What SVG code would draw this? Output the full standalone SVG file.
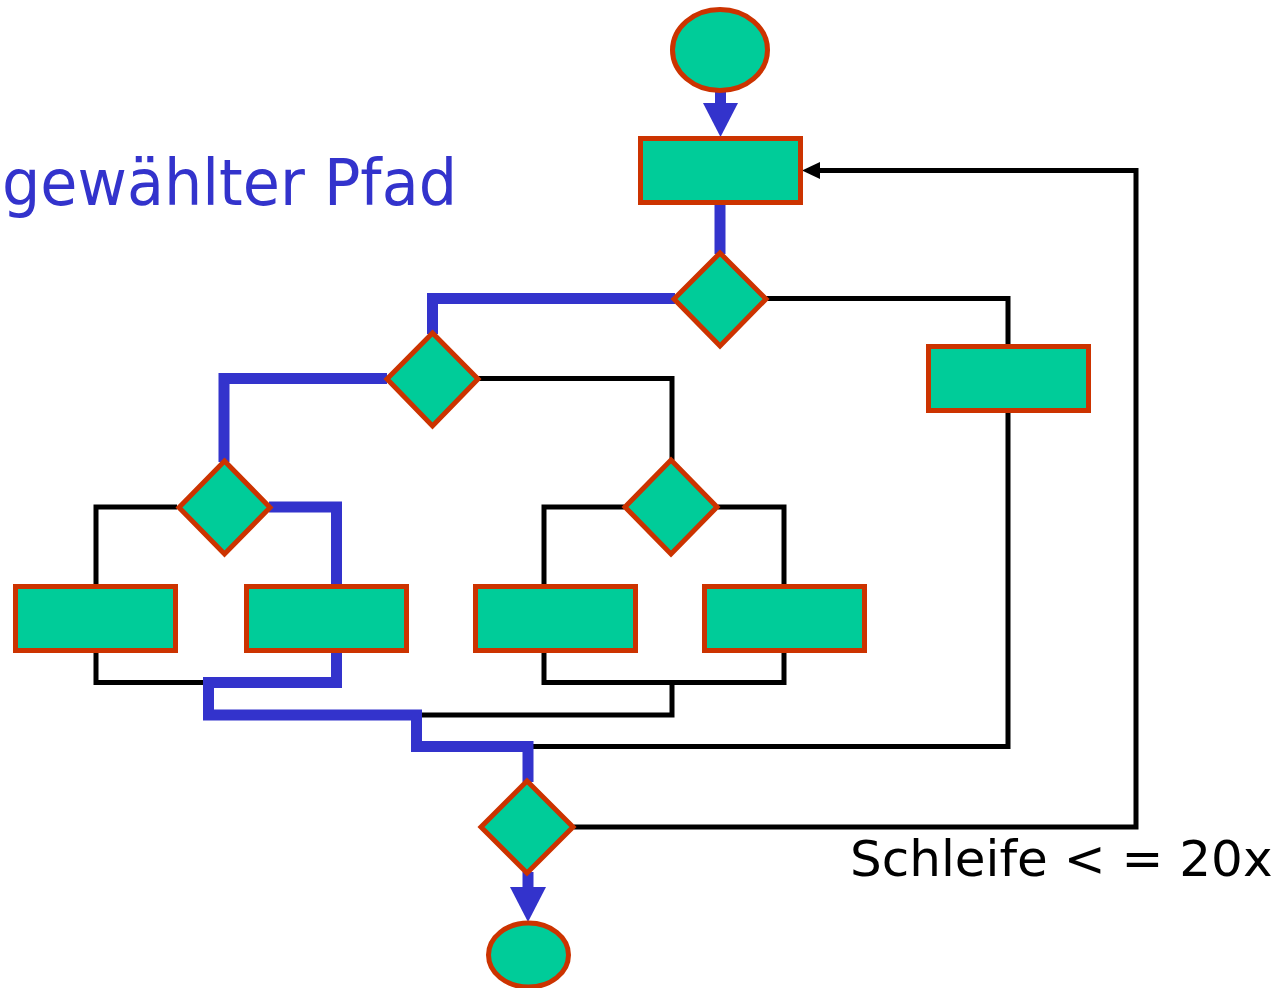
<svg xmlns="http://www.w3.org/2000/svg" width="1288" height="988" viewBox="0 0 1288 988">
<style>
.n{fill:#00CC99;stroke:#CC3300;stroke-width:5;stroke-linejoin:miter}
.b{fill:none;stroke:#3333CC;stroke-width:11;stroke-linecap:butt;stroke-linejoin:miter}
.k{fill:none;stroke:#000;stroke-width:5;stroke-linecap:butt;stroke-linejoin:miter}
.t{font-family:"DejaVu Sans","Liberation Sans",sans-serif}
</style>
<rect width="1288" height="988" fill="#fff"/>
<g id="connectors">
  <path class="k" d="M765,298.5 H1008 V346"/>
  <path class="k" d="M1008,413 V746.5 H528"/>
  <path class="k" d="M477,378.5 H672 V460"/>
  <path class="k" d="M624,507 H544 V586"/>
  <path class="k" d="M718,507 H784 V586"/>
  <path class="k" d="M177,507 H96 V586"/>
  <path class="k" d="M96,653 V682.5 H208"/>
  <path class="k" d="M544,653 V682.5 H784 V653"/>
  <path class="k" d="M672,682.5 V715 H416"/>
  <path class="k" d="M574,827 H1136 V170.5 H818"/>
  <polygon points="802,170.5 820,162 820,179" fill="#000"/>
  <path class="b" d="M720.5,92 V104"/>
  <polygon points="703,103 738,103 720.5,137" fill="#3333CC"/>
  <path class="b" d="M720,204 V254"/>
  <path class="b" d="M675,298.5 H432.5 V334"/>
  <path class="b" d="M387,378.5 H224 V462"/>
  <path class="b" d="M269,507 H336.5 V586"/>
  <path class="b" d="M336.5,653 V682.5 H208.5 V715 H416.5 V746.5 H528 V782"/>
  <path class="b" d="M528,872 V888"/>
  <polygon points="510,887 546,887 528,922" fill="#3333CC"/>
</g>
<g id="start"><ellipse class="n" cx="720" cy="50" rx="47.5" ry="40.5"/></g>
<g id="r_top"><rect class="n" x="640.5" y="138.5" width="160" height="64"/></g>
<g id="d1"><polygon class="n" points="720,253 766,299 720,346 674,299"/></g>
<g id="d2"><polygon class="n" points="432.5,333 478,379 432.5,426 387,379"/></g>
<g id="r_right"><rect class="n" x="928.5" y="346.5" width="160" height="64"/></g>
<g id="d3"><polygon class="n" points="224.5,461 270,507.5 224.5,554 179,507.5"/></g>
<g id="d4"><polygon class="n" points="671,460 717,507 671,554 625,507"/></g>
<g id="r_a"><rect class="n" x="15.5" y="586.5" width="160" height="64"/></g>
<g id="r_b"><rect class="n" x="246.5" y="586.5" width="160" height="64"/></g>
<g id="r_c"><rect class="n" x="475.5" y="586.5" width="160" height="64"/></g>
<g id="r_d"><rect class="n" x="704.5" y="586.5" width="160" height="64"/></g>
<g id="d5"><polygon class="n" points="527,781 573,827 527,873 481,827"/></g>
<g id="end"><ellipse class="n" cx="528.5" cy="955" rx="40" ry="32"/></g>
<text class="t" x="2" y="205" font-size="64" fill="#3333CC" textLength="455" lengthAdjust="spacingAndGlyphs">gewählter Pfad</text>
<text class="t" x="850" y="876" font-size="50" fill="#000">Schleife &lt; = 20x</text>
</svg>
